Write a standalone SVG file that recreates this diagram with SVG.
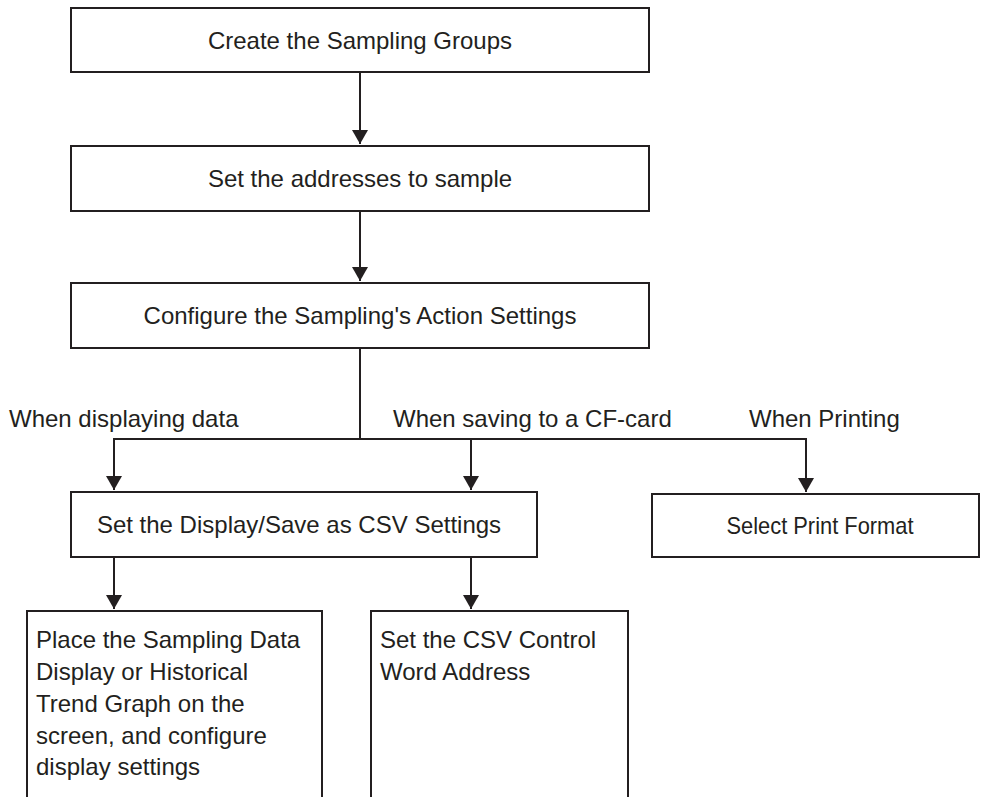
<svg xmlns="http://www.w3.org/2000/svg" width="981" height="797" viewBox="0 0 981 797">
<style>
.box{fill:#fff;stroke:#231f20;stroke-width:2}
.t{font-family:"Liberation Sans",Arial,sans-serif;font-size:24px;fill:#231f20}
.c{text-anchor:middle}
.ln{fill:none;stroke:#231f20;stroke-width:2}
</style>
<defs>
<marker id="ah" markerUnits="userSpaceOnUse" markerWidth="18" markerHeight="16" refX="14" refY="8" orient="auto" viewBox="0 0 18 16">
<path d="M0,0 L14,8 L0,16 Z" fill="#231f20"/>
</marker>
</defs>
<rect width="981" height="797" fill="#fff"/>
<g id="connectors">
<line class="ln" x1="360" y1="72" x2="360" y2="144" marker-end="url(#ah)"/>
<line class="ln" x1="360" y1="211" x2="360" y2="281" marker-end="url(#ah)"/>
<polyline class="ln" points="360,348 360,439"/>
<polyline class="ln" points="114,490 114,439 806,439 806,492"/>
<line class="ln" x1="114" y1="439" x2="114" y2="490" marker-end="url(#ah)"/>
<line class="ln" x1="471" y1="439" x2="471" y2="490" marker-end="url(#ah)"/>
<line class="ln" x1="806" y1="439" x2="806" y2="492" marker-end="url(#ah)"/>
<line class="ln" x1="114" y1="557" x2="114" y2="609" marker-end="url(#ah)"/>
<line class="ln" x1="471" y1="557" x2="471" y2="609" marker-end="url(#ah)"/>
</g>
<g id="labels">
<text class="t" x="9" y="427">When displaying data</text>
<text class="t" x="393" y="427">When saving to a CF-card</text>
<text class="t" x="749" y="427">When Printing</text>
</g>
<g id="n1">
<rect class="box" x="71" y="8" width="578" height="64"/>
<text class="t c" x="360" y="49">Create the Sampling Groups</text>
</g>
<g id="n2">
<rect class="box" x="71" y="146" width="578" height="65"/>
<text class="t c" x="360" y="187">Set the addresses to sample</text>
</g>
<g id="n3">
<rect class="box" x="71" y="283" width="578" height="65"/>
<text class="t c" x="360" y="324">Configure the Sampling's Action Settings</text>
</g>
<g id="n4">
<rect class="box" x="71" y="492" width="466" height="65"/>
<text class="t c" x="299" y="533">Set the Display/Save as CSV Settings</text>
</g>
<g id="n5">
<rect class="box" x="652" y="494" width="327" height="63"/>
<text class="t c" x="820" y="534" textLength="187" lengthAdjust="spacingAndGlyphs">Select Print Format</text>
</g>
<g id="n6">
<rect class="box" x="27" y="611" width="295" height="220"/>
<text class="t" x="36" y="648">Place the Sampling Data</text>
<text class="t" x="36" y="680">Display or Historical</text>
<text class="t" x="36" y="712">Trend Graph on the</text>
<text class="t" x="36" y="744">screen, and configure</text>
<text class="t" x="36" y="775">display settings</text>
</g>
<g id="n7">
<rect class="box" x="371" y="611" width="257" height="220"/>
<text class="t" x="380" y="648">Set the CSV Control</text>
<text class="t" x="380" y="680">Word Address</text>
</g>
</svg>
